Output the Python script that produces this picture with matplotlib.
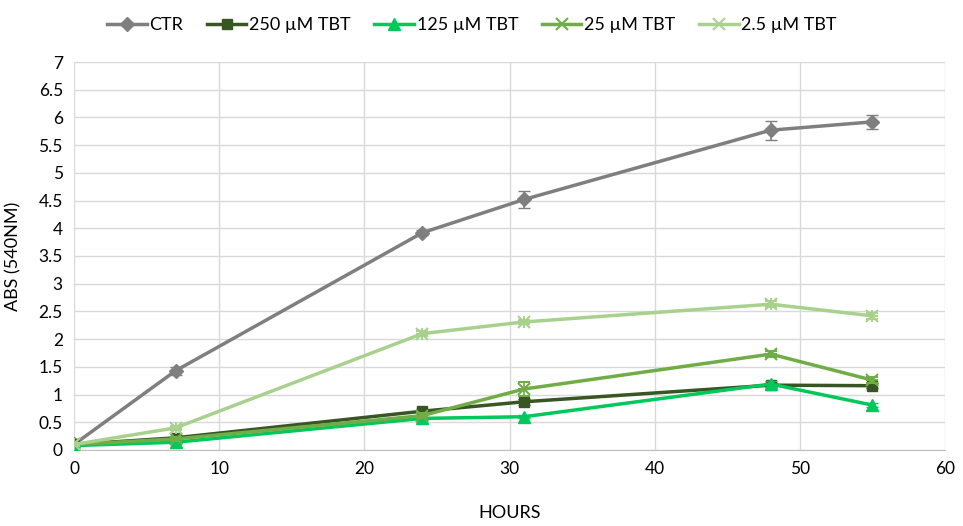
import matplotlib
matplotlib.use("Agg")
import matplotlib.pyplot as plt
from matplotlib.lines import Line2D

hours = [0, 7, 24, 31, 48, 55]
ctr = [0.10, 1.43, 3.92, 4.52, 5.77, 5.92]
ctr_err = [0.02, 0.07, 0.05, 0.15, 0.17, 0.12]
tbt250 = [0.10, 0.22, 0.70, 0.87, 1.17, 1.16]
tbt250_err = [0.02, 0.03, 0.04, 0.05, 0.04, 0.04]
tbt125 = [0.08, 0.14, 0.57, 0.60, 1.19, 0.81]
tbt125_err = [0.02, 0.02, 0.03, 0.03, 0.05, 0.04]
tbt25 = [0.10, 0.20, 0.62, 1.10, 1.73, 1.26]
tbt25_err = [0.02, 0.03, 0.04, 0.12, 0.05, 0.05]
tbt2_5 = [0.10, 0.40, 2.10, 2.31, 2.63, 2.42]
tbt2_5_err = [0.02, 0.04, 0.04, 0.04, 0.05, 0.05]

plt.rcParams['font.family'] = ["Lato", "DejaVu Sans"]

fig = plt.figure(figsize=(9.63, 5.26), dpi=100)
ax = fig.add_axes([74/963, 1-450/526, (945-74)/963, (450-62)/526])

series = [
    ("CTR", ctr, ctr_err, "#7F7F7F", "D", 7),
    ("250 µM TBT", tbt250, tbt250_err, "#375623", "s", 7),
    ("125 µM TBT", tbt125, tbt125_err, "#00C85A", "^", 8),
    ("25 µM TBT", tbt25, tbt25_err, "#70AD47", "x", 9),
    ("2.5 µM TBT", tbt2_5, tbt2_5_err, "#A9D18E", "x", 9),
]
handles = []
for i, (lab, y, e, c, m, ms) in enumerate(series):
    ax.errorbar(hours, y, yerr=e, color=c, marker=m, markersize=ms, lw=2.5,
                capsize=4, elinewidth=1.2, capthick=1.2,
                markeredgewidth=1.5 if m == "x" else 1, zorder=3 + i)
    extra = None
    if lab == "2.5 µM TBT":
        extra = "+"
    elif lab == "25 µM TBT":
        extra = "_"
    if extra:
        ax.plot(hours, y, ls="none", marker=extra, markersize=9, color=c, mew=1.5, zorder=3 + i)
    handles.append(Line2D([], [], color=c, marker=m, markersize=ms, lw=2.5,
                          markeredgewidth=1.5 if m == "x" else 1, label=lab))

ax.set_xlim(0, 60)
ax.set_ylim(0, 7)
ax.set_xticks(range(0, 61, 10))
yt = [i * 0.5 for i in range(15)]
ax.set_yticks(yt)
ax.set_yticklabels([f"{v:g}" for v in yt])
ax.grid(True, color="#D9D9D9", lw=1)
ax.set_axisbelow(True)
for s in ["top", "right", "left"]:
    ax.spines[s].set_visible(False)
ax.spines["bottom"].set_color("#BFBFBF")
ax.tick_params(length=0, labelsize=12.5, colors="#000000", pad=8)
ax.set_xlabel("HOURS", fontsize=13, labelpad=20)
ax.set_ylabel("ABS (540NM)", fontsize=13, labelpad=12)

fig.legend(handles=handles, loc="center", bbox_to_anchor=(0.49, 1 - 25/526), ncol=5,
           frameon=False, fontsize=13, handlelength=2.2, columnspacing=1.3, handletextpad=0.15)

fig.savefig("out.png", dpi=100)
